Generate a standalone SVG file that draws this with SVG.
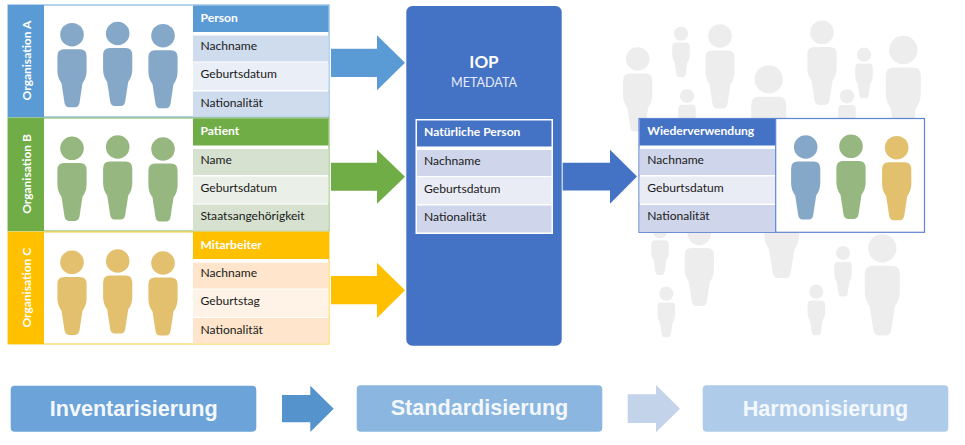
<svg xmlns="http://www.w3.org/2000/svg" xmlns:xlink="http://www.w3.org/1999/xlink" width="965" height="445" viewBox="0 0 965 445">
<style>
text{font-family:"Lato","Liberation Sans",sans-serif;font-size:12.1px;fill:#1a1a1a}
.h{font-weight:700;fill:#fff}
.o{font-weight:700;fill:#fff;font-size:12px;text-anchor:middle}
.b{font-family:"Liberation Sans",Arial,sans-serif;font-weight:700;font-size:21.6px;fill:#f4f8fc;text-anchor:middle}
.blue{fill:#85A8C9}.green{fill:#96B77F}.yellow{fill:#E3C06E}.gray{fill:#EDEDED}
.r1{fill:#CFDCEE}.r2{fill:#E9EEF7}.g1{fill:#D6E2CF}.g2{fill:#EAF0E7}.y1{fill:#FEE5CB}.y2{fill:#FFF3E7}.i1{fill:#CFD5EA}.i2{fill:#E9EBF5}
</style>
<defs>
<g id="person">
<circle cx="0" cy="0" r="11.8"/>
<path d="M-8 14.6H8Q14.6 14.6 14.6 21.5V36Q14.6 43 10.5 48.5L7.6 67.5Q7 72.6 3 72.6H-3Q-7 72.6-7.6 67.5L-10.5 48.5Q-14.6 43-14.6 36V21.5Q-14.6 14.6-8 14.6Z"/>
</g>
</defs>

<g id="crowd" class="gray">
<use xlink:href="#person" href="#person" transform="translate(637.7 59)"/>
<use xlink:href="#person" href="#person" transform="translate(681 33.7) scale(.6)"/>
<use xlink:href="#person" href="#person" transform="translate(720 36)"/>
<use xlink:href="#person" href="#person" transform="translate(768.7 79.3) scale(1.2)"/>
<use xlink:href="#person" href="#person" transform="translate(822 32.3)"/>
<use xlink:href="#person" href="#person" transform="translate(864 54.7) scale(.6)"/>
<use xlink:href="#person" href="#person" transform="translate(903.3 50) scale(1.2)"/>
<use xlink:href="#person" href="#person" transform="translate(687 96) scale(.6)"/>
<use xlink:href="#person" href="#person" transform="translate(847 96.3) scale(.6)"/>
<use xlink:href="#person" href="#person" transform="translate(660 231.4) scale(.6)"/>
<use xlink:href="#person" href="#person" transform="translate(699.3 233.4)"/>
<use xlink:href="#person" href="#person" transform="translate(781.7 191) scale(1.2)"/>
<use xlink:href="#person" href="#person" transform="translate(882.3 248.3) scale(1.2)"/>
<use xlink:href="#person" href="#person" transform="translate(843 253) scale(.6)"/>
<use xlink:href="#person" href="#person" transform="translate(816.3 291.7) scale(.6)"/>
<use xlink:href="#person" href="#person" transform="translate(666.3 293.7) scale(.6)"/>
</g>

<g id="org-a">
<rect x="8" y="5" width="321" height="112" fill="#fff" stroke="#6FA8DC" stroke-width="1"/>
<rect x="8" y="5" width="36" height="112" fill="#5B9BD5"/>
<text class="o" transform="translate(30.5 60.5) rotate(-90)">Organisation A</text>
<g class="blue">
<use xlink:href="#person" href="#person" transform="translate(72 34.7)"/>
<use xlink:href="#person" href="#person" transform="translate(117.7 33.5)"/>
<use xlink:href="#person" href="#person" transform="translate(163 35.7)"/>
</g>
<rect x="193" y="5.5" width="135.5" height="26.5" fill="#5B9BD5"/>
<rect class="r1" x="193" y="35.5" width="135.5" height="26"/>
<rect class="r2" x="193" y="62.5" width="135.5" height="27.5"/>
<rect class="r1" x="193" y="91.5" width="135.5" height="25"/>
<text class="h" x="200.5" y="21.7">Person</text>
<text x="200.5" y="50">Nachname</text>
<text x="200.5" y="78">Geburtsdatum</text>
<text x="200.5" y="106.5">Nationalität</text>
</g>

<g id="org-b">
<rect x="8" y="118" width="321" height="113" fill="#fff" stroke="#7DB558" stroke-width="1"/>
<rect x="8" y="118" width="36" height="113" fill="#70AD47"/>
<text class="o" transform="translate(30.5 174) rotate(-90)">Organisation B</text>
<g class="green">
<use xlink:href="#person" href="#person" transform="translate(72 148.3)"/>
<use xlink:href="#person" href="#person" transform="translate(117.7 147)"/>
<use xlink:href="#person" href="#person" transform="translate(163 149)"/>
</g>
<rect x="193" y="118.5" width="135.5" height="27" fill="#70AD47"/>
<rect class="g1" x="193" y="149" width="135.5" height="26"/>
<rect class="g2" x="193" y="176.5" width="135.5" height="27"/>
<rect class="g1" x="193" y="204.5" width="135.5" height="26"/>
<text class="h" x="200.5" y="135">Patient</text>
<text x="200.5" y="163.5">Name</text>
<text x="200.5" y="191.7">Geburtsdatum</text>
<text x="200.5" y="220">Staatsangehörigkeit</text>
</g>

<g id="org-c">
<rect x="8" y="232" width="321" height="112" fill="#fff" stroke="#FFCC33" stroke-width="1"/>
<rect x="8" y="232" width="36" height="112" fill="#FFC000"/>
<text class="o" transform="translate(30.5 287.7) rotate(-90)">Organisation C</text>
<g class="yellow">
<use xlink:href="#person" href="#person" transform="translate(72 262.3)"/>
<use xlink:href="#person" href="#person" transform="translate(117.7 261)"/>
<use xlink:href="#person" href="#person" transform="translate(163 263)"/>
</g>
<rect x="193" y="232" width="136" height="27" fill="#FFC000"/>
<rect class="y1" x="193" y="262.7" width="135.5" height="25.8"/>
<rect class="y2" x="193" y="289.5" width="135.5" height="27.5"/>
<rect class="y1" x="193" y="318" width="135.5" height="25.5"/>
<text class="h" x="200.5" y="249">Mitarbeiter</text>
<text x="200.5" y="277">Nachname</text>
<text x="200.5" y="305">Geburtstag</text>
<text x="200.5" y="333.5">Nationalität</text>
</g>

<g id="iop">
<rect x="406.3" y="6" width="155.4" height="339.7" rx="6" fill="#4472C4"/>
<text x="484" y="68.3" text-anchor="middle" style="font-size:17px;font-weight:700;fill:#fff">IOP</text>
<text x="484" y="87.3" text-anchor="middle" style="font-size:12.6px;fill:#E6ECF7">METADATA</text>
<rect x="416" y="119.5" width="136.5" height="114" fill="#fff" stroke="#fff" stroke-width="1"/>
<rect x="417" y="120.5" width="134.5" height="26" fill="#4472C4"/>
<rect class="i1" x="417" y="150" width="134.5" height="26"/>
<rect class="i2" x="417" y="177" width="134.5" height="27"/>
<rect class="i1" x="417" y="205.5" width="134.5" height="27"/>
<text class="h" x="424" y="136">Natürliche Person</text>
<text x="424" y="164.7">Nachname</text>
<text x="424" y="192.7">Geburtsdatum</text>
<text x="424" y="221.3">Nationalität</text>
</g>

<g id="reuse">
<rect x="639" y="118.5" width="285.5" height="113.8" fill="#fff" stroke="#5B84D2" stroke-width="1.2"/>
<g class="i1">
<rect x="639.6" y="119" width="136" height="26.5" style="fill:#4472C4"/>
<rect x="639.6" y="149" width="136" height="26"/>
<rect class="i2" x="639.6" y="176.5" width="136" height="27"/>
<rect x="639.6" y="205" width="136" height="27"/>
</g>
<path d="M775.7 118.5V232.3" stroke="#5B84D2" stroke-width="1.2" fill="none"/>
<text class="h" x="647.3" y="135">Wiederverwendung</text>
<text x="647.3" y="163.5">Nachname</text>
<text x="647.3" y="191.7">Geburtsdatum</text>
<text x="647.3" y="220">Nationalität</text>
<use class="blue" xlink:href="#person" href="#person" transform="translate(805.7 147)"/>
<use class="green" xlink:href="#person" href="#person" transform="translate(851 146.3)"/>
<use class="yellow" xlink:href="#person" href="#person" transform="translate(896.7 147.7)"/>
</g>

<g id="step-inventarisierung">
<rect x="10.7" y="385.7" width="245.6" height="46" rx="4" fill="#6CA3D9"/>
<text class="b" x="133.7" y="415.7">Inventarisierung</text>
</g>
<g id="step-standardisierung">
<rect x="356.7" y="385.3" width="245.6" height="46.4" rx="4" fill="#8AB6E0"/>
<text class="b" x="479.5" y="415.3">Standardisierung</text>
</g>
<g id="step-harmonisierung">
<rect x="702.7" y="385.3" width="245.6" height="46.4" rx="4" fill="#AECCEA"/>
<text class="b" x="825.5" y="415.5">Harmonisierung</text>
</g>

<g id="connectors">
<polygon fill="#5B9BD5" points="331,48.7 377,48.7 377,35.3 405,62.8 377,90.3 377,77 331,77"/>
<polygon fill="#70AD47" points="331,162.7 377,162.7 377,149.7 405,176.7 377,203.7 377,190.7 331,190.7"/>
<polygon fill="#FFC000" points="331,276 377,276 377,262.7 405,290.3 377,318 377,304.3 331,304.3"/>
<polygon fill="#4472C4" points="562.7,162.7 610,162.7 610,149.7 637,176.5 610,203.7 610,190.5 562.7,190.5"/>
<polygon fill="#5593CC" points="282,395 310.3,395 310.3,385.7 333.7,408.8 310.3,432 310.3,422.3 282,422.3"/>
<polygon fill="#C3D3EA" points="627.7,394.3 656,394.3 656,385 680,408.7 656,432.3 656,423 627.7,423"/>
</g>
</svg>
